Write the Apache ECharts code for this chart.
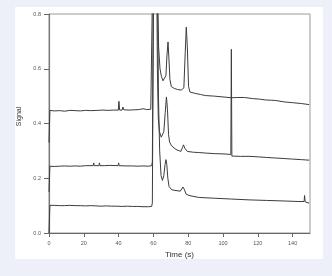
<!DOCTYPE html>
<html>
<head>
<meta charset="utf-8">
<script src="https://cdn.jsdelivr.net/npm/echarts@6/dist/echarts.min.js"></script>
<style>
html,body{margin:0;padding:0;background:#edf0f8;}
#c{width:332px;height:276px;}
</style>
</head>
<body>
<div id="c"></div>
<script>
// Time ticks and signal ticks
const xTicks = [0, 20, 40, 60, 80, 100, 120, 140];
const yTicks = [0, 0.2, 0.4, 0.6, 0.8];

// Top trace
const topT = [0,0.5,3,6,9,12,15,18,21,24,24.5,25,28,31,34,37,39.8,40.2,40.6,42,42.5,43,46,49,52,54,56,58.5,59,59.5,60.5,61.5,62.3,63,63.8,64.6,65.5,66.5,67.2,67.8,68.4,68.9,69.5,70.3,72,74,76,77.5,78.3,78.9,79.5,80.2,81,84,87,90,95,100,105,108,112.3,112.6,112.9,117,121,124.5,128,130.3,130.6,130.9,135,140,145,149.5];
const topV = [0.33,0.448,0.446,0.447,0.445,0.448,0.447,0.446,0.448,0.447,0.452,0.447,0.448,0.449,0.448,0.449,0.449,0.481,0.449,0.449,0.46,0.45,0.449,0.45,0.451,0.454,0.451,0.452,0.455,0.9,1.5,1.4,0.9,0.68,0.6,0.572,0.556,0.553,0.575,0.65,0.698,0.64,0.56,0.535,0.528,0.524,0.522,0.53,0.66,0.752,0.68,0.535,0.515,0.51,0.506,0.502,0.5,0.497,0.494,0.495,0.495,0.501,0.494,0.491,0.489,0.486,0.485,0.484,0.489,0.483,0.479,0.476,0.473,0.469];

// Middle trace
const midT = [0,0.5,3,6,9,12,15,18,21,25.4,25.7,26,28.7,29,29.3,32,35,39.7,40,40.3,43.8,44.1,44.4,48,51,54,57,59,59.4,59.8,60.5,61.5,62.3,62.8,63.5,64.5,65.3,66,66.8,67.5,68.1,68.7,69.3,70.5,73,75.8,76.7,77.3,78,79.5,83,86,90,95,100,104.5,104.8,105.1,110,115.5,115.8,116.1,120.5,120.8,121.1,125,130,135,140,145,149.5];
const midV = [0.15,0.244,0.243,0.244,0.245,0.244,0.245,0.244,0.246,0.246,0.256,0.246,0.246,0.256,0.246,0.246,0.247,0.246,0.256,0.246,0.245,0.251,0.245,0.245,0.244,0.245,0.244,0.246,0.26,0.7,1.5,1.3,0.6,0.42,0.37,0.35,0.347,0.37,0.44,0.497,0.45,0.36,0.332,0.318,0.305,0.298,0.312,0.322,0.31,0.298,0.295,0.294,0.292,0.29,0.289,0.287,0.671,0.281,0.28,0.28,0.286,0.279,0.278,0.283,0.277,0.276,0.274,0.272,0.27,0.268,0.266];

// Bottom trace
const botT = [0,0.5,3,6,9,12,15,17.9,18.2,18.5,21,24,27,30,33,36,39,42,45,48,51,54,57,59,59.4,59.9,60.6,62,62.9,63.6,64.4,65.2,66,66.7,67.2,67.7,68.3,69,70.5,73,75.5,76.4,77,77.7,78.8,80.5,86,95,105,115,125,135,143.7,146.6,146.9,147.2,149.5];
const botV = [0.0,0.101,0.101,0.1,0.1,0.101,0.1,0.1,0.106,0.099,0.099,0.1,0.099,0.098,0.099,0.098,0.098,0.097,0.098,0.097,0.097,0.096,0.096,0.097,0.11,0.7,1.5,1.2,0.5,0.3,0.21,0.192,0.21,0.25,0.268,0.25,0.2,0.17,0.158,0.155,0.153,0.16,0.168,0.16,0.142,0.137,0.13,0.127,0.124,0.121,0.119,0.117,0.115,0.115,0.137,0.114,0.109];

function pairs(t, v) { return t.map((x, i) => [x, v[i]]); }

const chart = echarts.init(document.getElementById('c'), null, {renderer: 'canvas'});
const lineStyle = {color: '#3c3c3c', width: 1};
function mk(t, v) {
  return {type: 'line', data: pairs(t, v), showSymbol: false, symbol: 'none',
    clip: true, lineStyle: lineStyle, animation: false, silent: true};
}
chart.setOption({
  backgroundColor: '#edf0f8',
  animation: false,
  textStyle: {fontFamily: 'Liberation Sans'},
  graphic: [{type: 'rect', z: -10, shape: {x: 15, y: 7, width: 308, height: 252}, style: {fill: '#ffffff'}}],
  grid: {left: 49, right: 22, top: 14, bottom: 43, show: true, borderColor: '#999', borderWidth: 1, backgroundColor: 'transparent'},
  xAxis: {
    type: 'value', min: 0, max: 150, interval: 20,
    name: 'Time (s)', nameLocation: 'middle', nameGap: 17,
    nameTextStyle: {fontSize: 8, color: '#333', fontFamily: 'Liberation Sans'},
    axisLine: {show: true, onZero: false, lineStyle: {color: '#666', width: 1}},
    axisTick: {show: true, length: 4, customValues: xTicks, lineStyle: {color: '#666'}},
    axisLabel: {customValues: xTicks, fontSize: 5.5, color: '#555', margin: 7, fontFamily: 'Liberation Sans'},
    splitLine: {show: false}
  },
  yAxis: {
    type: 'value', min: 0, max: 0.8, interval: 0.2,
    name: 'Signal', nameLocation: 'middle', nameGap: 24,
    nameTextStyle: {fontSize: 7, color: '#333', fontFamily: 'Liberation Sans', padding: [0, 0, 0, 14]},
    axisLine: {show: true, lineStyle: {color: '#777', width: 1.2}},
    axisTick: {show: true, length: 5, customValues: yTicks, lineStyle: {color: '#666'}},
    axisLabel: {customValues: yTicks, fontSize: 5.5, color: '#555', margin: 8, fontFamily: 'Liberation Sans',
      formatter: v => v.toFixed(1)},
    splitLine: {show: false}
  },
  series: [mk(topT, topV), mk(midT, midV), mk(botT, botV)]
});
</script>
</body>
</html>
